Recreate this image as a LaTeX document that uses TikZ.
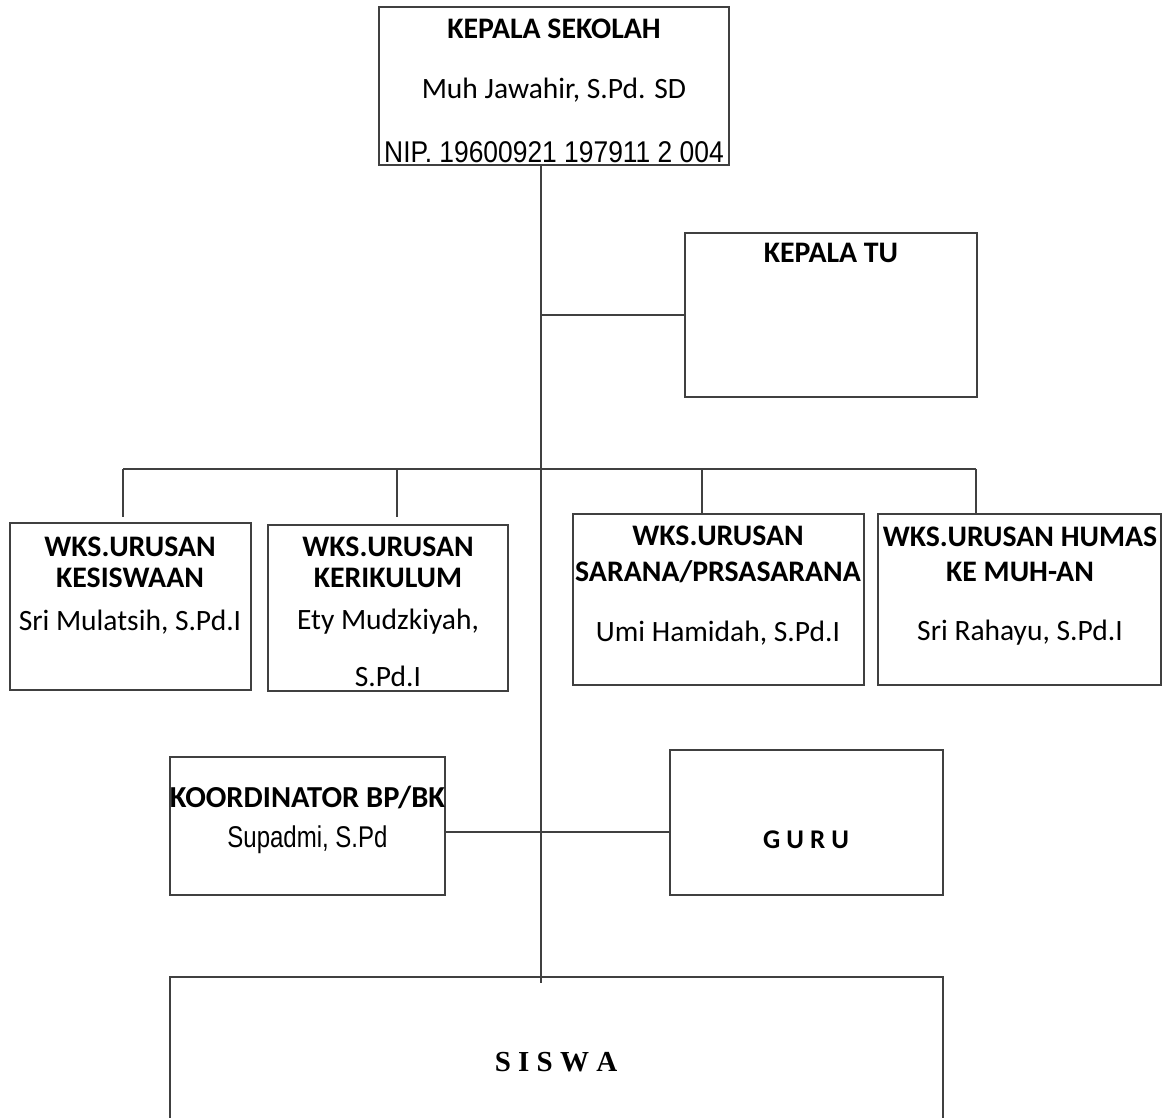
\documentclass[tikz,border=0pt]{standalone}
\usepackage{fontspec}
\setmainfont{Carlito}
\newfontfamily\narrowfont[FakeStretch=0.8]{Liberation Sans}
\newfontfamily\nipfont[FakeStretch=0.88]{Liberation Sans}
\newfontfamily\serifb{Liberation Serif}
\definecolor{lc}{RGB}{64,64,64}
\begin{document}
\begin{tikzpicture}[x=1pt,y=-1pt,
  box/.style={draw=lc,line width=2.2pt,inner sep=0pt},
  ln/.style={draw=lc,line width=2.2pt},
  hd/.style={font=\fontsize{29.8}{32}\selectfont\bfseries,inner sep=0pt},
  nm/.style={font=\fontsize{29.5}{32}\selectfont,inner sep=0pt},
  nr/.style={font=\narrowfont\fontsize{30}{32}\selectfont,inner sep=0pt}]
\useasboundingbox (0,0) rectangle (1163,1118);
\clip (0,0) rectangle (1163,1118);
% boxes
\node[box,minimum width=350pt,minimum height=158pt] (ks) at (554,86) {};
\node[box,minimum width=292pt,minimum height=164pt] (tu) at (831,315) {};
\node[box,minimum width=241pt,minimum height=167pt] (w1) at (130.5,606.5) {};
\node[box,minimum width=240pt,minimum height=166pt] (w2) at (388,608) {};
\node[box,minimum width=291pt,minimum height=171pt] (w3) at (718.5,599.5) {};
\node[box,minimum width=283pt,minimum height=171pt] (w4) at (1019.5,599.5) {};
\node[box,minimum width=275pt,minimum height=138pt] (bk) at (307.5,826) {};
\node[box,minimum width=273pt,minimum height=145pt] (guru) at (806.5,822.5) {};
\node[box,minimum width=773pt,minimum height=170pt] (siswa) at (556.5,1062) {};
% texts
\node[hd] (t1) at (554,29) {KEPALA SEKOLAH};
\node[nm] (t2) at (554,90) {Muh Jawahir, S.Pd. SD};
\node[inner sep=0pt,font=\nipfont\fontsize{30}{32}\selectfont] (t3) at (554,152) {NIP. 19600921 197911 2 004};
\node[hd] (t4) at (831,253) {KEPALA TU};
\node[hd] (t5) at (130,547) {WKS.URUSAN};
\node[hd] (t6) at (130,578) {KESISWAAN};
\node[nm] (t7) at (130,622) {Sri Mulatsih, S.Pd.I};
\node[hd] (t8) at (388,547) {WKS.URUSAN};
\node[hd] (t9) at (388,578) {KERIKULUM};
\node[nm] (t10) at (388,622) {Ety Mudzkiyah,};
\node[nm] (t11) at (388,676) {S.Pd.I};
\node[hd] (t12) at (718,536) {WKS.URUSAN};
\node[hd] (t13) at (718,572) {SARANA/PRSASARANA};
\node[nm] (t14) at (718,633) {Umi Hamidah, S.Pd.I};
\node[hd] (t15) at (1020,537) {WKS.URUSAN HUMAS};
\node[hd] (t16) at (1020,572) {KE MUH-AN};
\node[nm] (t17) at (1020,633) {Sri Rahayu, S.Pd.I};
\node[inner sep=0pt,font=\fontsize{30.5}{32}\selectfont\bfseries] (t18) at (307.5,797) {KOORDINATOR BP/BK};
\node[nr] (t19) at (307.5,840) {Supadmi, S.Pd};
\node[inner sep=0pt,font=\fontsize{27}{30}\selectfont\bfseries] (t20) at (806,840) {G U R U};
\node[inner sep=0pt,font=\serifb\bfseries\fontsize{29}{32}\selectfont] (t21) at (556,1062) {S I S W A};
% connectors
\coordinate (spend) at (541,983);
\coordinate (bus) at (541,469);
\coordinate (mid) at (541,832);
\coordinate (d1) at (123,517);
\coordinate (d2) at (397,517);
\coordinate (d3) at (702,514);
\coordinate (d4) at (976,514);
\draw[ln] (ks.south -| spend) -- (spend);
\draw[ln] (tu.west) -- (tu.west -| spend);
\draw[ln] (d1 |- bus) -- (d4 |- bus);
\draw[ln] (d1 |- bus) -- (d1);
\draw[ln] (d2 |- bus) -- (d2);
\draw[ln] (d3 |- bus) -- (d3);
\draw[ln] (d4 |- bus) -- (d4);
\draw[ln] (bk.east |- mid) -- (guru.west |- mid);
\end{tikzpicture}
\end{document}
